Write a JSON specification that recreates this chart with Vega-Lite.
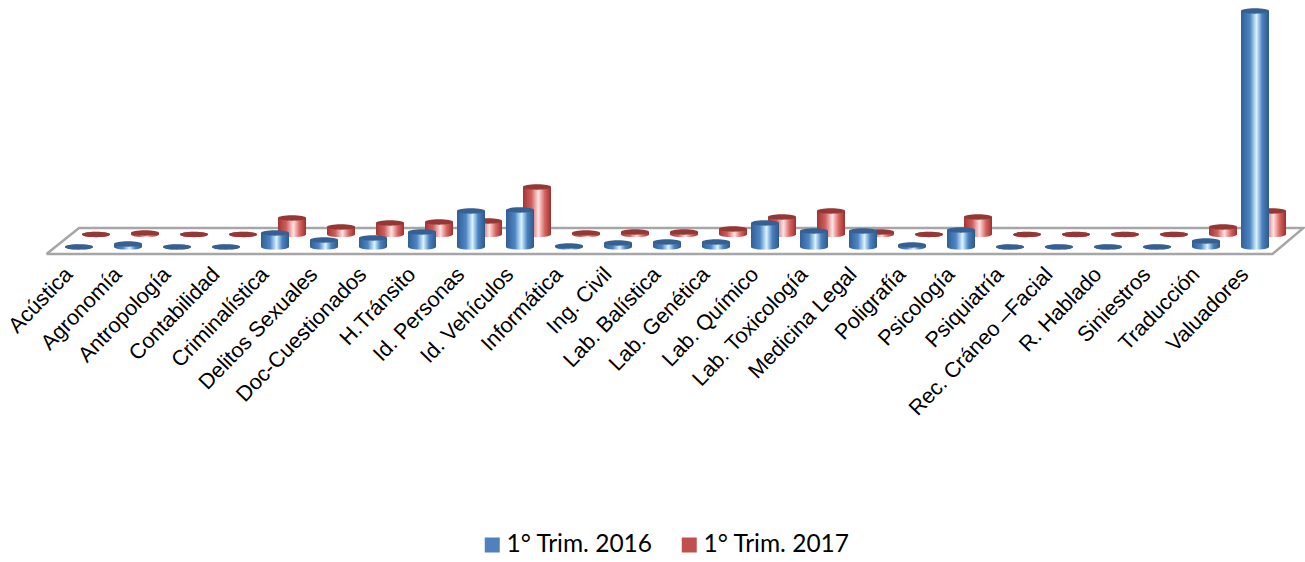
{"$schema":"https://vega.github.io/schema/vega-lite/v6.json","width":1225,"height":257,"autosize":{"type":"none"},"padding":{"left":63,"top":0,"right":17,"bottom":305},"background":"white","config":{"view":{"stroke":null}},"data":{"name":"tabla","values":[
{"c":"Acústica","s":"1° Trim. 2016","v":0},{"c":"Agronomía","s":"1° Trim. 2016","v":3},{"c":"Antropología","s":"1° Trim. 2016","v":0},{"c":"Contabilidad","s":"1° Trim. 2016","v":0},{"c":"Criminalística","s":"1° Trim. 2016","v":14},{"c":"Delitos Sexuales","s":"1° Trim. 2016","v":7},{"c":"Doc-Cuestionados","s":"1° Trim. 2016","v":9},{"c":"H.Tránsito","s":"1° Trim. 2016","v":15},{"c":"Id. Personas","s":"1° Trim. 2016","v":36},{"c":"Id. Vehículos","s":"1° Trim. 2016","v":37},{"c":"Informática","s":"1° Trim. 2016","v":1},{"c":"Ing. Civil","s":"1° Trim. 2016","v":4},{"c":"Lab. Balística","s":"1° Trim. 2016","v":5},{"c":"Lab. Genética","s":"1° Trim. 2016","v":5},{"c":"Lab. Químico","s":"1° Trim. 2016","v":24},{"c":"Lab. Toxicología","s":"1° Trim. 2016","v":16},{"c":"Medicina Legal","s":"1° Trim. 2016","v":16},{"c":"Poligrafía","s":"1° Trim. 2016","v":2},{"c":"Psicología","s":"1° Trim. 2016","v":17},{"c":"Psiquiatría","s":"1° Trim. 2016","v":0},{"c":"Rec. Cráneo –Facial","s":"1° Trim. 2016","v":0},{"c":"R. Hablado","s":"1° Trim. 2016","v":0},{"c":"Siniestros","s":"1° Trim. 2016","v":0},{"c":"Traducción","s":"1° Trim. 2016","v":6},{"c":"Valuadores","s":"1° Trim. 2016","v":236},
{"c":"Acústica","s":"1° Trim. 2017","v":0},{"c":"Agronomía","s":"1° Trim. 2017","v":1.5},{"c":"Antropología","s":"1° Trim. 2017","v":0},{"c":"Contabilidad","s":"1° Trim. 2017","v":0},{"c":"Criminalística","s":"1° Trim. 2017","v":16.5},{"c":"Delitos Sexuales","s":"1° Trim. 2017","v":7.5},{"c":"Doc-Cuestionados","s":"1° Trim. 2017","v":11.5},{"c":"H.Tránsito","s":"1° Trim. 2017","v":12.5},{"c":"Id. Personas","s":"1° Trim. 2017","v":13.5},{"c":"Id. Vehículos","s":"1° Trim. 2017","v":47.5},{"c":"Informática","s":"1° Trim. 2017","v":1.5},{"c":"Ing. Civil","s":"1° Trim. 2017","v":2.5},{"c":"Lab. Balística","s":"1° Trim. 2017","v":2.5},{"c":"Lab. Genética","s":"1° Trim. 2017","v":5.5},{"c":"Lab. Químico","s":"1° Trim. 2017","v":17.5},{"c":"Lab. Toxicología","s":"1° Trim. 2017","v":23.5},{"c":"Medicina Legal","s":"1° Trim. 2017","v":2.5},{"c":"Poligrafía","s":"1° Trim. 2017","v":0},{"c":"Psicología","s":"1° Trim. 2017","v":17.5},{"c":"Psiquiatría","s":"1° Trim. 2017","v":0},{"c":"Rec. Cráneo –Facial","s":"1° Trim. 2017","v":0},{"c":"R. Hablado","s":"1° Trim. 2017","v":0},{"c":"Siniestros","s":"1° Trim. 2017","v":0},{"c":"Traducción","s":"1° Trim. 2017","v":7.5},{"c":"Valuadores","s":"1° Trim. 2017","v":23.5}
]},
"encoding":{"y":{"field":"v","type":"quantitative","stack":null,"scale":{"domain":[-10,247],"nice":false,"zero":false},"axis":null}},
"resolve":{"scale":{"x":"independent"}},
"layer":[
{"data":{"values":[{"o":1,"p":-0.337,"n":-7},{"o":2,"p":24.684,"n":-7},{"o":3,"p":25.316,"n":19},{"o":4,"p":0.327,"n":19},{"o":5,"p":-0.337,"n":-7}]},
"mark":{"type":"line","stroke":"#a6a6a6","strokeWidth":2.5,"clip":false,"interpolate":"linear"},
"encoding":{"x":{"field":"p","type":"quantitative","scale":{"domain":[0,25],"nice":false,"zero":false},"axis":null},"y":{"field":"n","type":"quantitative"},"order":{"field":"o"}}},
{"encoding":{"x":{"field":"c","type":"nominal","scale":{"domain":["Acústica","Agronomía","Antropología","Contabilidad","Criminalística","Delitos Sexuales","Doc-Cuestionados","H.Tránsito","Id. Personas","Id. Vehículos","Informática","Ing. Civil","Lab. Balística","Lab. Genética","Lab. Químico","Lab. Toxicología","Medicina Legal","Poligrafía","Psicología","Psiquiatría","Rec. Cráneo –Facial","R. Hablado","Siniestros","Traducción","Valuadores"],"paddingInner":0,"paddingOuter":0},"axis":{"title":null,"domain":false,"ticks":false,"grid":false,"labelAngle":-46,"labelAlign":"right","labelBaseline":"middle","labelFont":"Liberation Sans","labelFontSize":21.5,"labelColor":"#000000","labelPadding":14,"labelOverlap":false,"labelBound":false,"labelFlush":false,"labelOffset":-18,"labelLimit":0}}},
"layer":[
{"mark":{"type":"point","filled":true,"size":0,"opacity":1,"shape":"square"},"encoding":{"color":{"field":"s","type":"nominal","scale":{"domain":["1° Trim. 2016","1° Trim. 2017"],"range":["#4f81bd","#c0504d"]},"legend":{"title":null,"orient":"none","legendX":417,"legendY":530,"direction":"horizontal","columns":2,"symbolType":"square","symbolSize":225,"symbolStrokeWidth":0,"symbolOpacity":1,"labelFont":"Lato","labelFontSize":24.5,"labelColor":"#000000","labelOffset":2,"labelLimit":0,"columnPadding":24,"clipHeight":30}}}},
{"transform":[{"filter":"datum.s === '1° Trim. 2017'"}],"mark":{"type":"point","filled":true,"size":784,"xOffset":8.5,"yOffset":-12.5,"opacity":1,"shape":"M -1 0 A 1 0.19 0 1 0 1 0 A 1 0.19 0 1 0 -1 0 Z","fill":{"gradient":"linear","x1":0,"x2":1,"y1":0,"y2":0,"stops":[{"offset":0,"color":"#a33634"},{"offset":0.3,"color":"#d05f5d"},{"offset":0.55,"color":"#ffe2e2"},{"offset":0.78,"color":"#d8625f"},{"offset":1,"color":"#96322f"}]}},"encoding":{"y":{"datum":0,"type":"quantitative"}}},
{"transform":[{"filter":"datum.s === '1° Trim. 2017'"}],"mark":{"type":"bar","width":28,"xOffset":8.5,"yOffset":-12.5,"y2Offset":-12.5,"fill":{"gradient":"linear","x1":0,"x2":1,"y1":0,"y2":0,"stops":[{"offset":0,"color":"#a33634"},{"offset":0.3,"color":"#d05f5d"},{"offset":0.55,"color":"#ffe2e2"},{"offset":0.78,"color":"#d8625f"},{"offset":1,"color":"#96322f"}]}},"encoding":{"y2":{"datum":0}}},
{"transform":[{"filter":"datum.s === '1° Trim. 2017'"}],"mark":{"type":"point","filled":true,"size":784,"xOffset":8.5,"yOffset":-12.5,"opacity":1,"fill":"#953735","shape":"M -1 0 A 1 0.19 0 1 0 1 0 A 1 0.19 0 1 0 -1 0 Z"}},
{"transform":[{"filter":"datum.s === '1° Trim. 2016'"}],"mark":{"type":"point","filled":true,"size":784,"xOffset":-8.5,"opacity":1,"shape":"M -1 0 A 1 0.19 0 1 0 1 0 A 1 0.19 0 1 0 -1 0 Z","fill":{"gradient":"linear","x1":0,"x2":1,"y1":0,"y2":0,"stops":[{"offset":0,"color":"#2f5f96"},{"offset":0.32,"color":"#4f85c4"},{"offset":0.55,"color":"#d8f4ff"},{"offset":0.76,"color":"#4a80c0"},{"offset":1,"color":"#2d5a8a"}]}},"encoding":{"y":{"datum":0,"type":"quantitative"}}},
{"transform":[{"filter":"datum.s === '1° Trim. 2016'"}],"mark":{"type":"bar","width":28,"xOffset":-8.5,"fill":{"gradient":"linear","x1":0,"x2":1,"y1":0,"y2":0,"stops":[{"offset":0,"color":"#2f5f96"},{"offset":0.32,"color":"#4f85c4"},{"offset":0.55,"color":"#d8f4ff"},{"offset":0.76,"color":"#4a80c0"},{"offset":1,"color":"#2d5a8a"}]}}},
{"transform":[{"filter":"datum.s === '1° Trim. 2016'"}],"mark":{"type":"point","filled":true,"size":784,"xOffset":-8.5,"opacity":1,"fill":"#376092","shape":"M -1 0 A 1 0.19 0 1 0 1 0 A 1 0.19 0 1 0 -1 0 Z"}}
]}
]}
